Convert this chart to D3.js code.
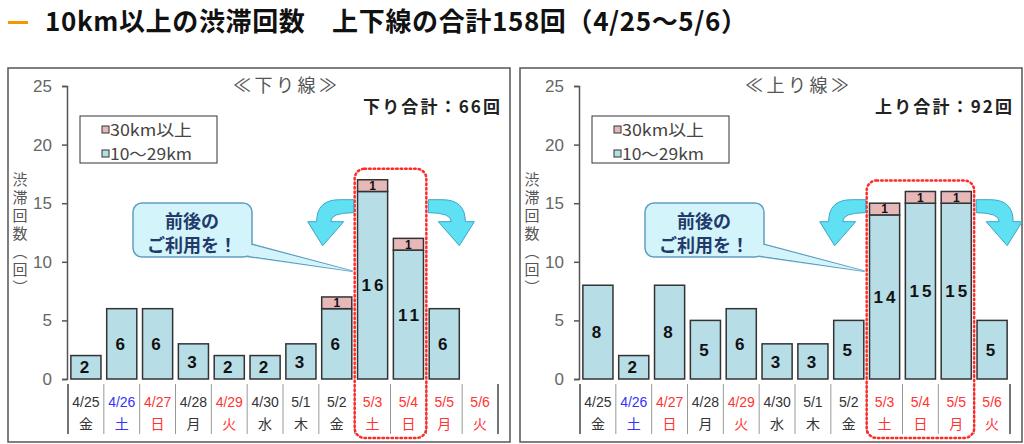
<!doctype html>
<html>
  <head>
    <meta charset="utf-8" />
    <title>10km以上の渋滞回数</title>
    <script src="https://cdn.jsdelivr.net/npm/d3@7"></script>
    <style>
      html,
      body {
        margin: 0;
        padding: 0;
        background: #fff;
        overflow: hidden;
      }
      text {
        font-family: "Noto Sans CJK JP", "Liberation Sans", sans-serif;
      }
      .num {
        font-family: "Liberation Sans", Arial, sans-serif;
      }
    </style>
  </head>
  <body>
    <script>
      // categories
      const dates = ["4/25", "4/26", "4/27", "4/28", "4/29", "4/30", "5/1", "5/2", "5/3", "5/4", "5/5", "5/6"];
      const weekdays = ["金", "土", "日", "月", "火", "水", "木", "金", "土", "日", "月", "火"];
      // w = weekday, s = saturday, h = sunday / holiday
      const dayKinds = ["w", "s", "h", "w", "h", "w", "w", "w", "h", "h", "h", "h"];

      // 下り線
      const downShort = [2, 6, 6, 3, 2, 2, 3, 6, 16, 11, 6, 0];
      const downLong = [0, 0, 0, 0, 0, 0, 0, 1, 1, 1, 0, 0];
      const downPeak = ["5/3", "5/4"];

      // 上り線
      const upShort = [8, 2, 8, 5, 6, 3, 3, 5, 14, 15, 15, 5];
      const upLong = [0, 0, 0, 0, 0, 0, 0, 0, 1, 1, 1, 0];
      const upPeak = ["5/3", "5/4", "5/5"];

      const yTicks = [0, 5, 10, 15, 20, 25];
      const seriesNames = ["30km以上", "10～29km"];

      const width = 1024;
      const height = 444;
      const shortColor = "#b7dde6";
      const longColor = "#e6b9b8";
      const dayColor = { w: "#333", s: "#3333ff", h: "#ff3333" };

      const svg = d3
        .select("body")
        .append("svg")
        .attr("width", width)
        .attr("height", height);

      // page title
      svg
        .append("rect")
        .attr("x", 8)
        .attr("y", 21)
        .attr("width", 20)
        .attr("height", 3)
        .attr("fill", "#f39800");
      svg
        .append("text")
        .attr("x", 45)
        .attr("y", 31)
        .attr("font-size", 26)
        .attr("font-weight", "bold")
        .attr("fill", "#111")
        .attr("textLength", 702)
        .attr("lengthAdjust", "spacing")
        .text("10km以上の渋滞回数　上下線の合計158回（4/25～5/6）");

      function panel(offsetX, name, totalLabel, shortVals, longVals, peak) {
        const g = svg.append("g").attr("transform", `translate(${offsetX},0)`);

        g.append("rect")
          .attr("x", 8)
          .attr("y", 68)
          .attr("width", 502)
          .attr("height", 374)
          .attr("fill", "#fff")
          .attr("stroke", "#555")
          .attr("stroke-width", 1.5);

        const x = d3.scaleBand().domain(dates).range([68, 498]).paddingInner(0.16).paddingOuter(0.08);
        const y = d3.scaleLinear().domain([0, 25]).range([379, 86]);
        const step = x.step();
        const gap = (step - x.bandwidth()) / 2;

        // y axis
        const yAxis = g
          .append("g")
          .attr("transform", "translate(67,0)")
          .call(d3.axisLeft(y).tickValues(yTicks).tickSize(5).tickPadding(10));
        yAxis.select(".domain").attr("stroke", "#555").attr("stroke-width", 1.5);
        yAxis.selectAll(".tick line").attr("stroke", "#555").attr("stroke-width", 1.5);
        yAxis
          .selectAll(".tick text")
          .attr("class", "num")
          .attr("font-size", 17)
          .attr("fill", "#666");

        // y label (vertical)
        g.append("text")
          .attr("x", 20)
          .attr("y", 172)
          .attr("font-size", 15)
          .attr("fill", "#555")
          .style("writing-mode", "vertical-rl")
          .style("letter-spacing", "3px")
          .text("渋滞回数（回）");

        // panel heading & total
        g.append("text")
          .attr("x", 285)
          .attr("y", 92)
          .attr("text-anchor", "middle")
          .attr("font-size", 18)
          .attr("fill", "#555")
          .attr("textLength", 104)
          .attr("lengthAdjust", "spacing")
          .text(name);
        g.append("text")
          .attr("x", 363)
          .attr("y", 113)
          .attr("font-size", 17)
          .attr("font-weight", "bold")
          .attr("fill", "#222")
          .attr("textLength", 137)
          .attr("lengthAdjust", "spacing")
          .text(totalLabel);

        // legend
        const lg = g.append("g");
        lg.append("rect")
          .attr("x", 80)
          .attr("y", 116)
          .attr("width", 137)
          .attr("height", 47)
          .attr("fill", "#fff")
          .attr("stroke", "#333")
          .attr("stroke-width", 1);
        [longColor, shortColor].forEach((c, i) => {
          lg.append("rect")
            .attr("x", 102)
            .attr("y", 126 + i * 24)
            .attr("width", 7)
            .attr("height", 7)
            .attr("fill", c)
            .attr("stroke", "#333")
            .attr("stroke-width", 1);
          lg.append("text")
            .attr("x", 110)
            .attr("y", 136 + i * 24)
            .attr("font-size", 16)
            .attr("fill", "#444")
            .attr("textLength", 82)
            .attr("lengthAdjust", "spacingAndGlyphs")
            .text(seriesNames[i]);
        });

        // stacked bars
        const rows = dates.map((d, i) => ({ date: d, short: shortVals[i], long: longVals[i] }));
        const stacked = d3.stack().keys(["short", "long"])(rows);

        const layer = g
          .append("g")
          .selectAll("g")
          .data(stacked)
          .join("g")
          .attr("fill", (s) => (s.key === "short" ? shortColor : longColor));

        layer
          .selectAll("rect")
          .data((s) => s.filter((d) => d[1] - d[0] > 0))
          .join("rect")
          .attr("x", (d) => x(d.data.date))
          .attr("y", (d) => y(d[1]))
          .attr("width", x.bandwidth())
          .attr("height", (d) => y(d[0]) - y(d[1]))
          .attr("stroke", "#333")
          .attr("stroke-width", 1.5);

        layer
          .selectAll("text")
          .data((s) => s.filter((d) => d[1] - d[0] > 0).map((d) => ({ d, key: s.key })))
          .join("text")
          .attr("class", "num")
          .attr("x", (o) => x(o.d.data.date) + x.bandwidth() / 2)
          .attr("y", (o) => (y(o.d[0]) + y(o.d[1])) / 2)
          .attr("dy", "0.36em")
          .attr("text-anchor", "middle")
          .attr("font-weight", "bold")
          .attr("font-size", (o) => (o.key === "short" ? 17 : 12))
          .attr("fill", "#111")
          .style("letter-spacing", (o) => (o.key === "short" ? "3px" : "0px"))
          .attr("dx", (o) => (o.key === "short" && o.d[1] - o.d[0] >= 10 ? 1.5 : 0))
          .text((o) => o.d[1] - o.d[0]);

        // date separators and labels
        const sep = g.append("g");
        d3.range(dates.length + 1).forEach((i) => {
          const edge = i === 0 || i === dates.length;
          sep.append("line")
            .attr("x1", x.range()[0] + i * step)
            .attr("x2", x.range()[0] + i * step)
            .attr("y1", 384)
            .attr("y2", 434)
            .attr("stroke", edge ? "#444" : "#999")
            .attr("stroke-width", edge ? 1.5 : 1);
        });
        const lab = g
          .append("g")
          .selectAll("g")
          .data(dates)
          .join("g")
          .attr("transform", (d) => `translate(${x(d) + x.bandwidth() / 2},0)`)
          .attr("fill", (d, i) => dayColor[dayKinds[i]]);
        lab.append("text")
          .attr("y", 407)
          .attr("text-anchor", "middle")
          .attr("font-size", 14)
          .style("font-family", '"Liberation Sans Narrow", "Liberation Sans", sans-serif')
          .text((d) => d);
        lab.append("text")
          .attr("y", 429)
          .attr("text-anchor", "middle")
          .attr("font-size", 14)
          .text((d, i) => weekdays[i]);

        // peak highlight
        const peakMax = d3.max(peak, (p) => shortVals[dates.indexOf(p)] + longVals[dates.indexOf(p)]);
        const hx0 = x(peak[0]) - gap;
        const hx1 = x(peak[peak.length - 1]) + x.bandwidth() + gap;
        const hy0 = y(peakMax) - 11;
        g.append("rect")
          .attr("x", hx0)
          .attr("y", hy0)
          .attr("width", hx1 - hx0)
          .attr("height", 438 - hy0)
          .attr("rx", 10)
          .attr("fill", "none")
          .attr("stroke", "#ff2a2a")
          .attr("stroke-width", 2.5)
          .attr("stroke-dasharray", "1.5,3")
          .attr("stroke-linecap", "round");

        // curved arrows either side of the highlight
        const arrowPath = "M 0 0 L -14 0 Q -37 0 -37 22 L -46 22 L -31 46 L -10 22 L -23 22 Q -23 13 0 13 Z";
        const ay = y(15.3);
        g.append("path")
          .attr("d", arrowPath)
          .attr("transform", `translate(${hx0 - 1},${ay})`)
          .attr("fill", "#5fe0f3")
          .attr("stroke", "#3ea6c6")
          .attr("stroke-width", 1);
        g.append("path")
          .attr("d", arrowPath)
          .attr("transform", `translate(${hx1 + 2},${ay}) scale(-1,1)`)
          .attr("fill", "#5fe0f3")
          .attr("stroke", "#3ea6c6")
          .attr("stroke-width", 1);

        // callout
        const cg = g.append("g");
        cg.append("path")
          .attr("d", `M 236 240 L ${hx0 - 2} ${y(9.2)} L 230 254 Z`)
          .attr("fill", "#d3f4fa")
          .attr("stroke", "#5f9fc2")
          .attr("stroke-width", 1.5);
        cg.append("rect")
          .attr("x", 133)
          .attr("y", 203)
          .attr("width", 119)
          .attr("height", 54)
          .attr("rx", 9)
          .attr("fill", "#d3f4fa")
          .attr("stroke", "#5f9fc2")
          .attr("stroke-width", 1.5);
        cg.append("path")
          .attr("d", `M 236 241 L ${hx0 - 2} ${y(9.2)} L 231 253`)
          .attr("fill", "#d3f4fa")
          .attr("stroke", "none");
        ["前後の", "ご利用を！"].forEach((t, i) => {
          cg.append("text")
            .attr("x", 192)
            .attr("y", 222 + i * 24)
            .attr("dy", "0.35em")
            .attr("text-anchor", "middle")
            .attr("font-size", 18)
            .attr("font-weight", "bold")
            .attr("fill", "#1f3a6b")
            .text(t);
        });
      }

      panel(0, "≪下り線≫", "下り合計：66回", downShort, downLong, downPeak);
      panel(512, "≪上り線≫", "上り合計：92回", upShort, upLong, upPeak);
    </script>
  </body>
</html>
